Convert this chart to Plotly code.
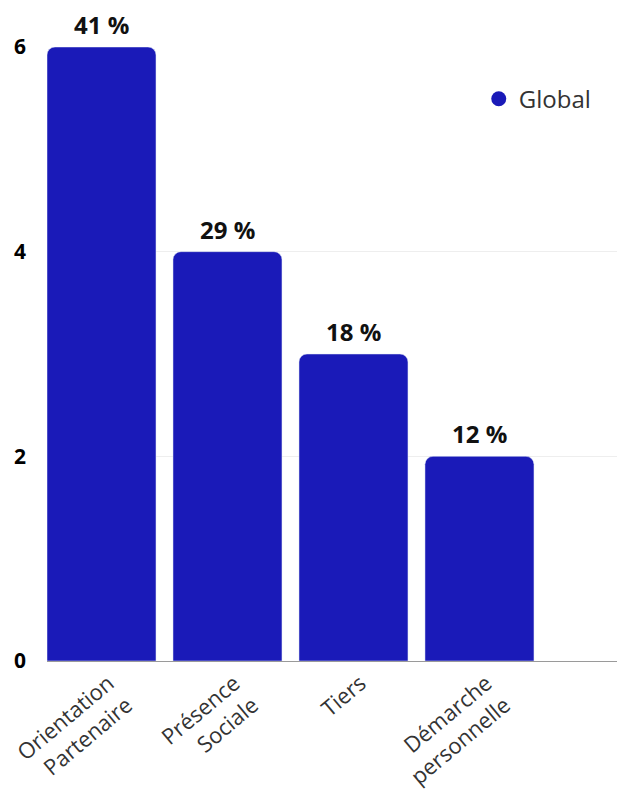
import plotly.graph_objects as go

categories = ["Orientation<br>Partenaire", "Présence<br>Sociale", "Tiers", "Démarche<br>personnelle"]
values = [6, 4, 3, 2]
labels = ["41 %", "29 %", "18 %", "12 %"]
series_name = "Global"
y_ticks = [0, 2, 4, 6]

color = "#1A1AB8"

fig = go.Figure()
fig.add_trace(go.Bar(
    x=list(range(len(categories))), y=values, marker=dict(color=color, cornerradius=8),
    width=0.865, showlegend=False, hoverinfo="skip",
))
fig.add_trace(go.Scatter(
    x=[None], y=[None], mode="markers", name=series_name,
    marker=dict(symbol="circle", size=15, color=color),
))
for i, (v, t) in enumerate(zip(values, labels)):
    fig.add_annotation(x=i, y=v, text="<b>%s</b>" % t, showarrow=False,
                       yanchor="bottom", yshift=5, borderpad=0,
                       font=dict(family="Open Sans", size=24, color="#111111"))

fig.update_layout(
    width=617, height=791,
    margin=dict(l=39, r=0, t=39, b=138, autoexpand=False),
    paper_bgcolor="white", plot_bgcolor="white",
    font=dict(family="Open Sans", color="#333333"),
    legend=dict(x=0.747, y=0.915, xanchor="left", yanchor="middle",
                font=dict(size=24, color="#333333"), bgcolor="rgba(0,0,0,0)"),
    xaxis=dict(
        tickmode="array", tickvals=list(range(len(categories))), ticktext=categories,
        tickangle=-40, tickfont=dict(size=22, color="#333333"),
        range=[-0.4325, 4.155], showgrid=False, zeroline=False, automargin=False,
        ticklabeloverflow="allow", ticklabelshift=7,
        showline=True, linecolor="#9a9a9a", linewidth=1, ticks="",
    ),
    yaxis=dict(
        range=[0, 6], tickvals=y_ticks, ticktext=["<b>%d</b>" % t for t in y_ticks],
        tickfont=dict(size=21, color="#000000"), showgrid=True, gridcolor="#eeeeee",
        zeroline=False, ticklabelstandoff=20, automargin=False,
    ),
)

fig.write_html("out.html")
